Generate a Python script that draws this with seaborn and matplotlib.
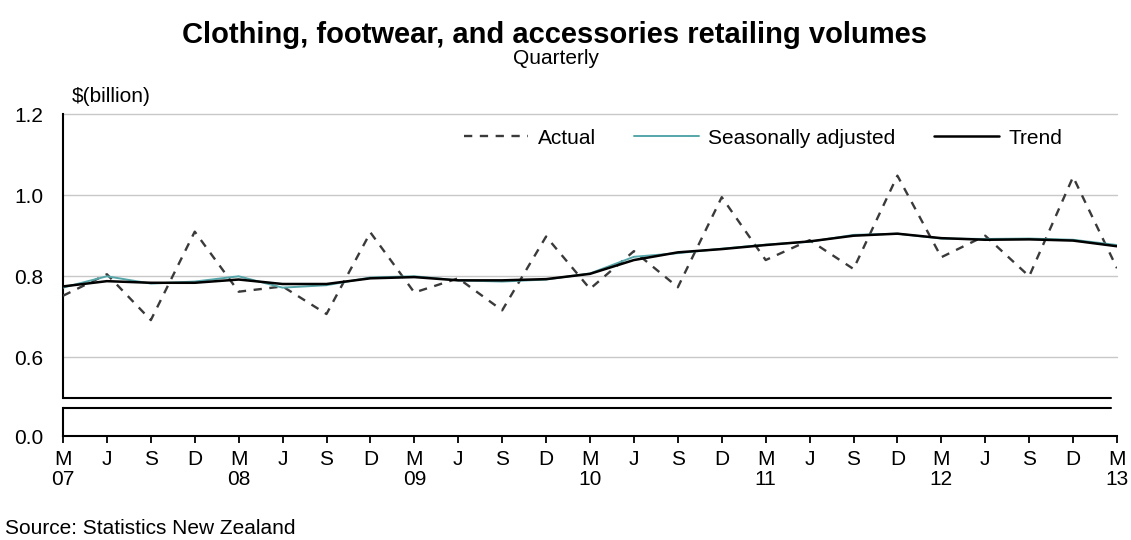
import matplotlib
matplotlib.use("Agg")
import matplotlib.pyplot as plt
import seaborn as sns
import pandas as pd
import numpy as np

quarters = ["M", "J", "S", "D"] * 6 + ["M"]
years = ["07", "08", "09", "10", "11", "12", "13"]

actual = [0.752, 0.805, 0.692, 0.910, 0.762, 0.775, 0.707, 0.908, 0.760, 0.795, 0.716, 0.898,
          0.769, 0.862, 0.773, 0.995, 0.840, 0.889, 0.818, 1.048, 0.847, 0.900, 0.800, 1.045, 0.820]
seas_adj = [0.772, 0.800, 0.782, 0.787, 0.800, 0.772, 0.778, 0.797, 0.800, 0.790, 0.787, 0.792,
            0.807, 0.848, 0.857, 0.868, 0.878, 0.885, 0.902, 0.905, 0.893, 0.892, 0.893, 0.890, 0.877]
trend = [0.775, 0.788, 0.784, 0.784, 0.792, 0.781, 0.781, 0.795, 0.798, 0.790, 0.790, 0.793,
         0.806, 0.840, 0.859, 0.867, 0.877, 0.886, 0.900, 0.905, 0.894, 0.890, 0.891, 0.888, 0.874]

tick_labels = []
yi = 0
for q in quarters:
    if q == "M":
        tick_labels.append("M\n" + years[yi])
        yi += 1
    else:
        tick_labels.append(q)

df = pd.DataFrame({"idx": np.arange(len(actual)), "Actual": actual,
                   "Seasonally adjusted": seas_adj, "Trend": trend})

sns.set_style("white")
plt.rcParams["font.family"] = ["Liberation Sans", "DejaVu Sans"]
plt.rcParams["text.color"] = "black"
plt.rcParams["xtick.color"] = "black"
plt.rcParams["ytick.color"] = "black"
plt.rcParams["axes.labelcolor"] = "black"

W, H = 1131, 540
fig = plt.figure(figsize=(W / 100, H / 100), dpi=100)

def fx(px):
    return px / W

def fy(py):
    return 1 - py / H

FS = 15
left, right = 63, 1117
ax = fig.add_axes([fx(left), fy(398), fx(right - left), fy(114) - fy(398)])
axb = fig.add_axes([fx(left), fy(436), fx(right - left), fy(408) - fy(436)])

grid_c = "#c8c8c8"
for yv in [0.6, 0.8, 1.0, 1.2]:
    ax.axhline(yv, color=grid_c, lw=1.0, zorder=0, clip_on=False)

sns.lineplot(data=df, x="idx", y="Actual", ax=ax, color="#3a3a3a", lw=1.7,
             label="Actual", zorder=3)
ax.lines[-1].set_dashes([3.5, 3.2])
sns.lineplot(data=df, x="idx", y="Seasonally adjusted", ax=ax, color="#55a6a9", lw=1.4,
             label="Seasonally adjusted", zorder=4)
sns.lineplot(data=df, x="idx", y="Trend", ax=ax, color="#000000", lw=1.8,
             label="Trend", zorder=5)

ax.set_xlim(0, 24)
ax.set_ylim(0.5, 1.2)
ax.set_yticks([0.6, 0.8, 1.0, 1.2])
ax.set_yticklabels(["0.6", "0.8", "1.0", "1.2"])
ax.set_xticks([])
ax.set_xlabel("")
ax.set_ylabel("")
for s in ["top", "right", "bottom"]:
    ax.spines[s].set_visible(False)
ax.spines["left"].set_color("black")
ax.spines["left"].set_linewidth(1.5)
ax.axhline(0.5, xmin=0, xmax=(1111 - left) / (right - left), color="black", lw=1.5,
           clip_on=False, zorder=6)
ax.tick_params(axis="y", length=0, pad=14, labelsize=FS)

leg = ax.legend(ncol=3, frameon=False, loc="center right",
                bbox_to_anchor=(fx(1062), fy(138)), bbox_transform=fig.transFigure,
                fontsize=FS, handlelength=3.1, handletextpad=0.45, columnspacing=1.85,
                borderpad=0, borderaxespad=0)

# lower panel
axb.set_xlim(0, 24)
axb.set_ylim(0, 0.07)
axb.set_yticks([0.0])
axb.set_yticklabels(["0.0"])
axb.set_xticks(df["idx"])
axb.set_xticklabels(tick_labels, va="top", linespacing=1.1)
for s in ["top", "right"]:
    axb.spines[s].set_visible(False)
for s in ["left", "bottom"]:
    axb.spines[s].set_color("black")
    axb.spines[s].set_linewidth(1.5)
axb.axhline(0.07, xmin=0, xmax=(1111 - left) / (right - left), color="black", lw=1.5,
            clip_on=False)
axb.tick_params(axis="y", length=0, pad=14, labelsize=FS)
axb.tick_params(axis="x", length=5, width=1.3, direction="out", color="black",
                pad=5, labelsize=FS, bottom=True)

fig.text(fx(72), fy(97), "$(billion)", fontsize=FS, va="center", ha="left")
fig.text(fx(554), fy(35), "Clothing, footwear, and accessories retailing volumes",
         fontsize=21, fontweight="bold", ha="center", va="center")
fig.text(fx(556), fy(59), "Quarterly", fontsize=FS, ha="center", va="center")
fig.text(fx(5), fy(529), "Source: Statistics New Zealand", fontsize=FS, ha="left", va="center")

fig.savefig("out.png", dpi=100)
